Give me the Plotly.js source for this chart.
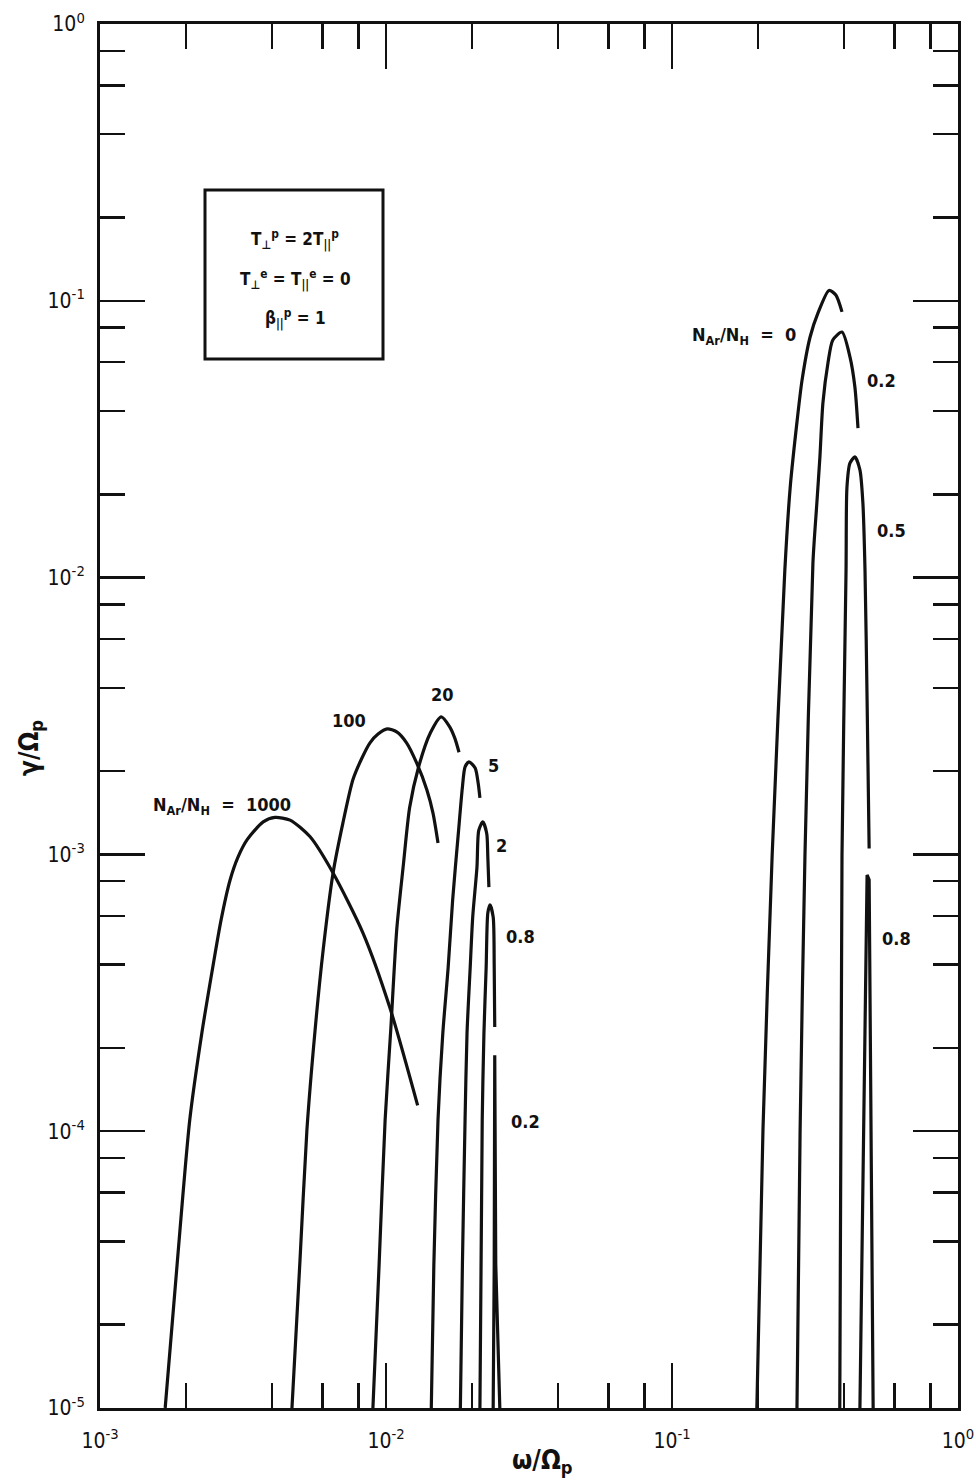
<!DOCTYPE html>
<html>
<head>
<meta charset="utf-8">
<script src="https://cdn.plot.ly/plotly-3.0.1.min.js"></script>
<style>
  html, body { margin: 0; padding: 0; background: #ffffff; }
  #chart { width: 976px; height: 1480px; }
</style>
</head>
<body>
<div id="chart"></div>
<script>
// ---- Data (omega/Omega_p , gamma/Omega_p) ----
const omega_1000 = [1.69e-3, 1.86e-3, 2.06e-3, 2.27e-3, 2.48e-3, 2.65e-3, 2.85e-3, 3.04e-3, 3.27e-3, 3.72e-3, 4.09e-3, 4.62e-3, 5.42e-3, 6.53e-3, 8.31e-3, 1.03e-2, 1.29e-2];
const gamma_1000 = [1.0e-5, 3.29e-5, 1.10e-4, 2.26e-4, 3.92e-4, 5.79e-4, 8.08e-4, 9.79e-4, 1.13e-3, 1.31e-3, 1.36e-3, 1.33e-3, 1.16e-3, 8.57e-4, 5.20e-4, 2.81e-4, 1.24e-4];

const omega_100 = [4.69e-3, 5.00e-3, 5.29e-3, 5.65e-3, 6.03e-3, 6.53e-3, 7.07e-3, 7.66e-3, 8.24e-3, 8.79e-3, 9.38e-3, 1.01e-2, 1.09e-2, 1.18e-2, 1.28e-2, 1.39e-2, 1.46e-2, 1.52e-2];
const gamma_100 = [1.0e-5, 3.37e-5, 1.01e-4, 2.32e-4, 4.52e-4, 8.57e-4, 1.30e-3, 1.86e-3, 2.23e-3, 2.53e-3, 2.72e-3, 2.84e-3, 2.77e-3, 2.53e-3, 2.14e-3, 1.71e-3, 1.41e-3, 1.10e-3];

const omega_20 = [9.00e-3, 9.46e-3, 9.93e-3, 1.04e-2, 1.09e-2, 1.15e-2, 1.21e-2, 1.30e-2, 1.43e-2, 1.56e-2, 1.67e-2, 1.74e-2, 1.80e-2];
const gamma_20 = [1.0e-5, 3.29e-5, 1.10e-4, 2.36e-4, 5.33e-4, 9.16e-4, 1.48e-3, 2.07e-3, 2.75e-3, 3.14e-3, 2.89e-3, 2.63e-3, 2.34e-3];

const omega_5 = [1.44e-2, 1.47e-2, 1.52e-2, 1.58e-2, 1.65e-2, 1.71e-2, 1.79e-2, 1.85e-2, 1.89e-2, 1.95e-2, 2.05e-2, 2.10e-2, 2.13e-2];
const gamma_5 = [1.0e-5, 3.29e-5, 1.10e-4, 2.26e-4, 3.92e-4, 6.84e-4, 1.19e-3, 1.75e-3, 2.07e-3, 2.16e-3, 2.05e-3, 1.81e-3, 1.60e-3];

const omega_2 = [1.82e-2, 1.85e-2, 1.89e-2, 1.92e-2, 1.97e-2, 2.01e-2, 2.08e-2, 2.11e-2, 2.18e-2, 2.25e-2, 2.27e-2, 2.29e-2];
const gamma_2 = [1.0e-5, 3.29e-5, 1.10e-4, 2.26e-4, 3.92e-4, 5.94e-4, 9.0e-4, 1.22e-3, 1.31e-3, 1.19e-3, 9.8e-4, 7.62e-4];

const omega_08a = [2.13e-2, 2.17e-2, 2.20e-2, 2.24e-2, 2.27e-2, 2.31e-2, 2.37e-2, 2.39e-2, 2.40e-2];
const gamma_08a = [1.0e-5, 1.10e-4, 2.26e-4, 3.92e-4, 6.14e-4, 6.57e-4, 5.94e-4, 3.92e-4, 2.38e-4];

const omega_02a = [2.37e-2, 2.39e-2, 2.40e-2, 2.42e-2, 2.50e-2];
const gamma_02a = [1.0e-5, 3.29e-5, 1.88e-4, 3.29e-5, 1.0e-5];

const omega_0 = [0.198, 0.208, 0.224, 0.248, 0.259, 0.274, 0.285, 0.304, 0.324, 0.354, 0.374, 0.393];
const gamma_0 = [1.0e-5, 1.01e-4, 9.95e-4, 1.06e-2, 2.12e-2, 3.71e-2, 5.18e-2, 7.40e-2, 9.04e-2, 0.109, 0.105, 0.0912];

const omega_02b = [0.2735, 0.2805, 0.2917, 0.311, 0.321, 0.329, 0.337, 0.351, 0.365, 0.393, 0.419, 0.436, 0.447];
const gamma_02b = [1.0e-5, 1.01e-4, 9.95e-4, 1.13e-2, 1.86e-2, 2.73e-2, 4.27e-2, 5.96e-2, 7.22e-2, 7.71e-2, 6.27e-2, 4.88e-2, 3.47e-2];

const omega_05b = [0.386, 0.393, 0.406, 0.409, 0.419, 0.436, 0.454, 0.465, 0.473, 0.481, 0.489];
const gamma_05b = [1.0e-5, 9.95e-4, 1.06e-2, 2.12e-2, 2.59e-2, 2.73e-2, 2.45e-2, 1.86e-2, 1.06e-2, 3.61e-3, 1.05e-3];

const omega_08b = [0.454, 0.469, 0.476, 0.481, 0.489, 0.492, 0.505];
const gamma_08b = [1.0e-5, 1.01e-4, 4.52e-4, 8.43e-4, 8.1e-4, 2.98e-4, 1.0e-5];

// ---- Tick labels ----
const xTickVals = [1e-3, 1e-2, 1e-1, 1];
const xTickText = ["10<sup>-3</sup>", "10<sup>-2</sup>", "10<sup>-1</sup>", "10<sup>0</sup>"];
const yTickVals = [1e-5, 1e-4, 1e-3, 1e-2, 1e-1, 1];
const yTickText = ["10<sup>-5</sup>", "10<sup>-4</sup>", "10<sup>-3</sup>", "10<sup>-2</sup>", "10<sup>-1</sup>", "10<sup>0</sup>"];
const xMinorVals = [2e-3, 4e-3, 6e-3, 8e-3, 2e-2, 4e-2, 6e-2, 8e-2, 2e-1, 4e-1, 6e-1, 8e-1];
const yMinorVals = [2e-5, 4e-5, 6e-5, 8e-5, 2e-4, 4e-4, 6e-4, 8e-4, 2e-3, 4e-3, 6e-3, 8e-3, 2e-2, 4e-2, 6e-2, 8e-2, 2e-1, 4e-1, 6e-1, 8e-1];

// ---- Texts ----
const NB = '\u00A0';
const curveLabels = ["N<sub>Ar</sub>/N<sub>H</sub>" + NB + NB + "=" + NB + NB + "0", "0.2", "0.5", "0.8", "100", "20", "5", "2", "0.8", "0.2",
                     "N<sub>Ar</sub>/N<sub>H</sub>" + NB + NB + "=" + NB + NB + "1000"];
const boxLines = ["T<sub>⊥</sub><sup>p</sup> = 2T<sub>||</sub><sup>p</sup>", "T<sub>⊥</sub><sup>e</sup> = T<sub>||</sub><sup>e</sup> = 0", "β<sub>||</sub><sup>p</sup> = 1"];
const xTitle = "ω/Ω<sub>p</sub>";
const yTitle = "γ/Ω<sub>p</sub>";

const FONT = '"Liberation Sans Narrow", "DejaVu Sans Condensed", "Liberation Sans", Arial, sans-serif';
const INK = '#111111';

function curve(x, y, name, shape) {
  return {
    x: x, y: y, name: name, type: 'scatter', mode: 'lines',
    line: {color: INK, width: 3.2, shape: shape || 'spline', smoothing: 0.7},
    hoverinfo: 'x+y', showlegend: false
  };
}

const traces = [
  curve(omega_1000, gamma_1000, 'N_Ar/N_H = 1000'),
  curve(omega_100, gamma_100, 'N_Ar/N_H = 100'),
  curve(omega_20, gamma_20, 'N_Ar/N_H = 20'),
  curve(omega_5, gamma_5, 'N_Ar/N_H = 5'),
  curve(omega_2, gamma_2, 'N_Ar/N_H = 2'),
  curve(omega_08a, gamma_08a, 'N_Ar/N_H = 0.8'),
  curve(omega_02a, gamma_02a, 'N_Ar/N_H = 0.2', 'linear'),
  curve(omega_0, gamma_0, 'N_Ar/N_H = 0'),
  curve(omega_02b, gamma_02b, 'N_Ar/N_H = 0.2'),
  curve(omega_05b, gamma_05b, 'N_Ar/N_H = 0.5'),
  curve(omega_08b, gamma_08b, 'N_Ar/N_H = 0.8', 'linear')
];

// plot-area pixel helpers for label placement (paper coordinates)
const L = 100, R = 958, T = 24, B = 1408;
const px = v => (v - L) / (R - L);
const py = v => (B - v) / (B - T);

const labelPos = [
  [798, 336, 'right'], [865, 380, 'left'], [875, 530, 'left'], [880, 938, 'left'],
  [349, 720, 'center'], [442, 694, 'center'], [493, 765, 'center'], [501, 845, 'center'],
  [504, 936, 'left'], [509, 1121, 'left'], [222, 806, 'center']
];

const annotations = curveLabels.map((t, i) => ({
  text: t, xref: 'paper', yref: 'paper',
  x: px(labelPos[i][0]), y: py(labelPos[i][1]),
  xanchor: labelPos[i][2], yanchor: 'middle', showarrow: false,
  font: {family: FONT, size: 18, color: INK, weight: 'bold'}
}));

const boxY = [240, 279, 318];
boxLines.forEach((t, i) => annotations.push({
  text: t, xref: 'paper', yref: 'paper', x: px(295), y: py(boxY[i]),
  xanchor: 'center', yanchor: 'middle', showarrow: false,
  font: {family: FONT, size: 17, color: INK, weight: 'bold'}
}));

// axis titles placed as text annotations at the reference positions
annotations.push({
  text: xTitle, xref: 'paper', yref: 'paper', x: px(542), y: py(1461),
  xanchor: 'center', yanchor: 'middle', showarrow: false,
  font: {family: FONT, size: 26, color: INK, weight: 'bold'}
});
annotations.push({
  text: yTitle, xref: 'paper', yref: 'paper', x: px(30), y: py(748), textangle: -90,
  xanchor: 'center', yanchor: 'middle', showarrow: false,
  font: {family: FONT, size: 26, color: INK, weight: 'bold'}
});

const axisCommon = {
  type: 'log', showgrid: false, zeroline: false,
  showline: true, linecolor: INK, linewidth: 3, mirror: 'ticks',
  ticks: 'inside', tickmode: 'array', ticklen: 45, tickwidth: 2.5, tickcolor: INK,
  ticklabelstandoff: 8,
  tickfont: {family: FONT, size: 21, color: INK},
  minor: {ticks: 'inside', tickmode: 'array', ticklen: 25, tickwidth: 2.5, tickcolor: INK, showgrid: false}
};

const layout = {
  width: 976, height: 1480,
  margin: {l: L, r: 976 - R, t: T, b: 1480 - B},
  paper_bgcolor: '#ffffff', plot_bgcolor: '#ffffff',
  showlegend: false,
  xaxis: Object.assign({}, axisCommon, {
    range: [-3, 0], tickvals: xTickVals, ticktext: xTickText,
    minor: Object.assign({}, axisCommon.minor, {tickvals: xMinorVals}),
    ticklabelstandoff: 12
  }),
  yaxis: Object.assign({}, axisCommon, {
    range: [-5, 0], tickvals: yTickVals, ticktext: yTickText,
    minor: Object.assign({}, axisCommon.minor, {tickvals: yMinorVals})
  }),
  shapes: [{
    type: 'rect', xref: 'paper', yref: 'paper',
    x0: px(205), x1: px(383), y0: py(359), y1: py(190),
    line: {color: INK, width: 3}, fillcolor: 'rgba(0,0,0,0)'
  }],
  annotations: annotations
};

Plotly.newPlot('chart', traces, layout, {displayModeBar: false, staticPlot: true});
</script>
</body>
</html>
